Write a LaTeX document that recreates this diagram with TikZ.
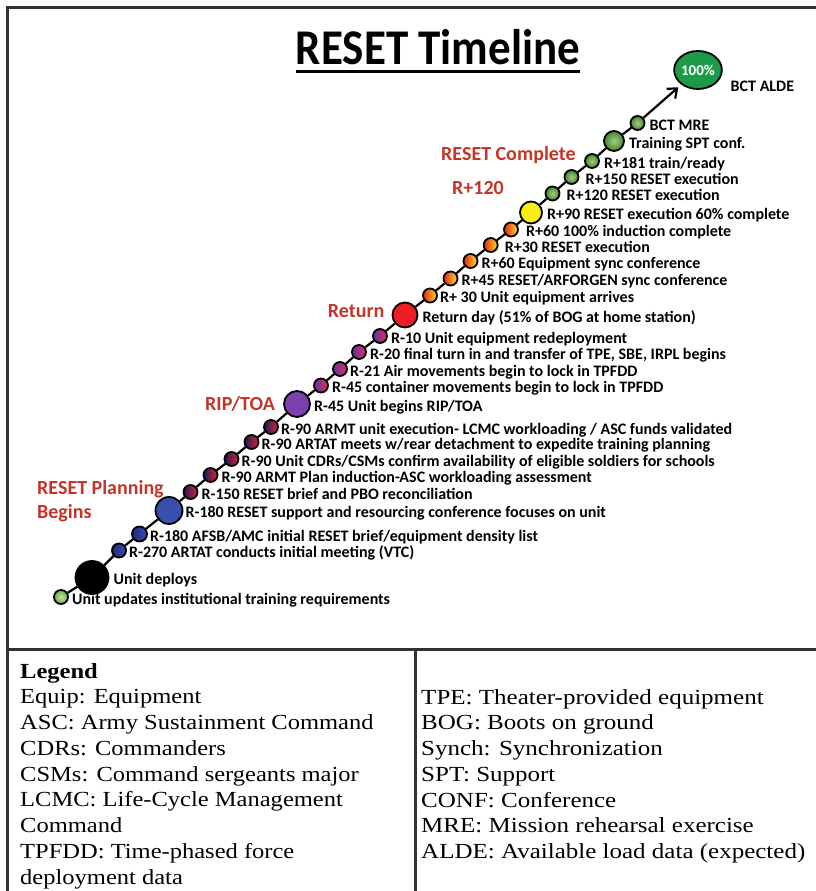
\documentclass[tikz,border=0pt]{standalone}
\usepackage{fontspec}
\setmainfont{Liberation Serif}
\newfontfamily\lblfont{Carlito}
\usetikzlibrary{shapes.geometric, arrows.meta, positioning, calc}
\definecolor{cFrame}{RGB}{50, 50, 50}
\definecolor{cPhase}{RGB}{196, 52, 40}
\definecolor{cGreenDark}{RGB}{70, 135, 48}
\definecolor{cGreenLight}{RGB}{160, 205, 130}
\definecolor{cLimeDark}{RGB}{105, 170, 75}
\definecolor{cLimeLight}{RGB}{200, 230, 160}
\definecolor{cBlue}{RGB}{58, 78, 176}
\definecolor{cBlueDark}{RGB}{30, 40, 120}
\definecolor{cNavy}{RGB}{28, 26, 88}
\definecolor{cCrimson}{RGB}{222, 34, 58}
\definecolor{cViolet}{RGB}{92, 54, 160}
\definecolor{cPink}{RGB}{232, 44, 88}
\definecolor{cPurple}{RGB}{124, 64, 170}
\definecolor{cRed}{RGB}{238, 30, 36}
\definecolor{cFireRed}{RGB}{232, 36, 28}
\definecolor{cFireYellow}{RGB}{250, 224, 30}
\definecolor{cYellow}{RGB}{246, 236, 22}
\definecolor{cBctGreen}{RGB}{28, 154, 72}
\tikzset{
    % event dots on the timeline
    evDot/.style={circle, draw=black, line width=1.8pt, inner sep=0pt, minimum size=14pt},
    bigDot/.style={evDot, minimum size=25pt},
    limeDot/.style={evDot, inner color=cLimeLight, outer color=cLimeDark},
    greenDot/.style={evDot, inner color=cGreenLight, outer color=cGreenDark},
    blueDot/.style={evDot, left color=cBlueDark, right color=cBlue},
    navyDot/.style={evDot, left color=cNavy, right color=cCrimson},
    violetDot/.style={evDot, left color=cViolet, right color=cPink},
    fireDot/.style={evDot, left color=cFireRed, right color=cFireYellow},
    % texts
    evText/.style={font=\lblfont\bfseries\fontsize{16}{16}\selectfont,
        inner sep=1pt, text height=15pt, text depth=0pt},
    phaseText/.style={font=\lblfont\bfseries\fontsize{20}{24}\selectfont,
        text=cPhase, align=left, inner sep=0pt},
    legendText/.style={font=\fontsize{21.5}{25.75}\selectfont, align=left,
        inner sep=0pt, anchor=north west, xscale=1.14},
    conn/.style={draw=black, line width=2.2pt},
    frameLine/.style={draw=cFrame, line width=3pt}
}
\begin{document}
\begin{tikzpicture}[x=1pt, y=1pt]
	\useasboundingbox (0,0) rectangle (816,891);

	% ==========================================
	% Frame and legend grid
	% ==========================================
	\draw [frameLine] (7,0) -- (7,883.5) -- (816,883.5);
	\draw [frameLine] (7,241.5) -- (816,241.5);
	\draw [frameLine] (415,241.5) -- (415,0);

	% ==========================================
	% Title
	% ==========================================
	\node [font=\lblfont\bfseries\fontsize{50}{50}\selectfont, xscale=0.9,
		inner sep=0pt, anchor=base] (title) at (438,826) {RESET Timeline};
	\draw [line width=3.5pt] ($(title.base west)+(0,-6.5)$) -- ($(title.base east)+(0,-6.5)$);

	% ==========================================
	% Timeline dots
	% ==========================================
	\node [limeDot] (c01) at (61,294) {};
	\node [evDot, fill=black, minimum size=33pt] (c02) at (92,313.5) {};
	\node [blueDot] (c03) at (119,340.5) {};
	\node [blueDot, minimum size=15pt] (c04) at (139.5,357) {};
	\node [bigDot, fill=cBlue, minimum size=27pt] (c05) at (169,380.5) {};
	\node [navyDot] (c06) at (190.5,399) {};
	\node [navyDot] (c07) at (210.5,416) {};
	\node [navyDot] (c08) at (231.5,432) {};
	\node [navyDot] (c09) at (251.5,449) {};
	\node [navyDot] (c10) at (271,464) {};
	\node [bigDot, fill=cPurple, minimum size=26pt] (c11) at (297,487) {};
	\node [violetDot] (c12) at (321,505.5) {};
	\node [violetDot] (c13) at (340,522) {};
	\node [violetDot] (c14) at (359,539) {};
	\node [violetDot] (c15) at (380,555) {};
	\node [bigDot, fill=cRed] (c16) at (405,576) {};
	\node [fireDot] (c17) at (430,595.5) {};
	\node [fireDot] (c18) at (450.5,612.5) {};
	\node [fireDot] (c19) at (470.5,630) {};
	\node [fireDot] (c20) at (490.7,646) {};
	\node [fireDot] (c21) at (511,661.5) {};
	\node [bigDot, fill=cYellow, minimum size=22pt] (c22) at (531,678.5) {};
	\node [greenDot] (c23) at (552.5,697.5) {};
	\node [greenDot] (c24) at (571.5,714) {};
	\node [greenDot] (c25) at (592,730) {};
	\node [greenDot, minimum size=20pt] (c26) at (614,750) {};
	\node [greenDot] (c27) at (637.5,768) {};
	\node [evDot, ellipse, minimum width=45pt, minimum height=38pt, fill=cBctGreen,
		text=white, font=\lblfont\bfseries\fontsize{15}{15}\selectfont] (c28) at (698,821) {100\%};

	% ==========================================
	% Event labels
	% ==========================================
	\node [evText, right=2pt of c01] (t01) {Unit updates institutional training requirements};
	\node [evText, right=3pt of c02] (t02) {Unit deploys};
	\node [evText, right=1pt of c03] (t03) {R-270 ARTAT conducts initial meeting (VTC)};
	\node [evText, right=1pt of c04] (t04) {R-180 AFSB/AMC initial RESET brief/equipment density list};
	\node [evText, right=1pt of c05] (t05) {R-180 RESET support and resourcing conference focuses on unit};
	\node [evText, right=2pt of c06] (t06) {R-150 RESET brief and PBO reconciliation};
	\node [evText, right=2pt of c07] (t07) {R-90 ARMT Plan induction-ASC workloading assessment};
	\node [evText, right=1pt of c08] (t08) {R-90 Unit CDRs/CSMs confirm availability of eligible soldiers for schools};
	\node [evText, right=1pt of c09] (t09) {R-90 ARTAT meets w/rear detachment to expedite training planning};
	\node [evText, right=1pt of c10] (t10) {R-90 ARMT unit execution- LCMC workloading / ASC funds validated};
	\node [evText, right=2pt of c11] (t11) {R-45 Unit begins RIP/TOA};
	\node [evText, right=2pt of c12] (t12) {R-45 container movements begin to lock in TPFDD};
	\node [evText, right=1pt of c13] (t13) {R-21 Air movements begin to lock in TPFDD};
	\node [evText, right=2pt of c14] (t14) {R-20 final turn in and transfer of TPE, SBE, IRPL begins};
	\node [evText, right=2pt of c15] (t15) {R-10 Unit equipment redeployment};
	\node [evText, right=3pt of c16] (t16) {Return day (51\% of BOG at home station)};
	\node [evText, right=1pt of c17] (t17) {R+ 30 Unit equipment arrives};
	\node [evText, right=2pt of c18] (t18) {R+45 RESET/ARFORGEN sync conference};
	\node [evText, right=2pt of c19] (t19) {R+60 Equipment sync conference};
	\node [evText, right=5pt of c20] (t20) {R+30 RESET execution};
	\node [evText, right=6pt of c21] (t21) {R+60 100\% induction complete};
	\node [evText, right=3pt of c22] (t22) {R+90 RESET execution 60\% complete};
	\node [evText, right=5pt of c23] (t23) {R+120 RESET execution};
	\node [evText, right=5pt of c24] (t24) {R+150 RESET execution};
	\node [evText, right=3pt of c25] (t25) {R+181 train/ready};
	\node [evText, right=3pt of c26] (t26) {Training SPT conf.};
	\node [evText, right=3pt of c27] (t27) {BCT MRE};
	\node [evText, right=14pt of c28.south east] (t28) {BCT ALDE};

	% ==========================================
	% Phase labels
	% ==========================================
	\node [phaseText, anchor=west] (phPlan) at (37,390) {RESET Planning\\Begins};
	\node [phaseText, left=8pt of c11] (phRip) {RIP/TOA};
	\node [phaseText, left=7pt of c16, yshift=4pt] (phReturn) {Return};
	\node [phaseText, anchor=west] (phR120) at (452,703) {R+120};
	\node [phaseText, anchor=west] (phDone) at (441,736) {RESET Complete};

	% ==========================================
	% Timeline connectors
	% ==========================================
	\draw [conn] (c01) -- (c02);
	\draw [conn] (c02) -- (c03);
	\draw [conn] (c03) -- (c04);
	\draw [conn] (c04) -- (c05);
	\draw [conn] (c05) -- (c06);
	\draw [conn] (c06) -- (c07);
	\draw [conn] (c07) -- (c08);
	\draw [conn] (c08) -- (c09);
	\draw [conn] (c09) -- (c10);
	\draw [conn] (c10) -- (c11);
	\draw [conn] (c11) -- (c12);
	\draw [conn] (c12) -- (c13);
	\draw [conn] (c13) -- (c14);
	\draw [conn] (c14) -- (c15);
	\draw [conn] (c15) -- (c16);
	\draw [conn] (c16) -- (c17);
	\draw [conn] (c17) -- (c18);
	\draw [conn] (c18) -- (c19);
	\draw [conn] (c19) -- (c20);
	\draw [conn] (c20) -- (c21);
	\draw [conn] (c21) -- (c22);
	\draw [conn] (c22) -- (c23);
	\draw [conn] (c23) -- (c24);
	\draw [conn] (c24) -- (c25);
	\draw [conn] (c25) -- (c26);
	\draw [conn] (c26) -- (c27);
	\draw [conn, -{Straight Barb[length=8pt, width=13pt]}, shorten >=4pt] (c27) -- (c28);

	% ==========================================
	% Legend
	% ==========================================
	\node [legendText] (legendLeft) at (20,228) {\textbf{Legend}\\
		Equip: Equipment\\
		ASC: Army Sustainment Command\\
		CDRs: Commanders\\
		CSMs: Command sergeants major\\
		LCMC: Life-Cycle Management\\
		Command\\
		TPFDD: Time-phased force\\
		deployment data};
	\node [legendText, xscale=1.02] (legendRight) at (421,202) {TPE: Theater-provided equipment\\
		BOG: Boots on ground\\
		Synch: Synchronization\\
		SPT: Support\\
		CONF: Conference\\
		MRE: Mission rehearsal exercise\\
		ALDE: Available load data (expected)};

\end{tikzpicture}
\end{document}
